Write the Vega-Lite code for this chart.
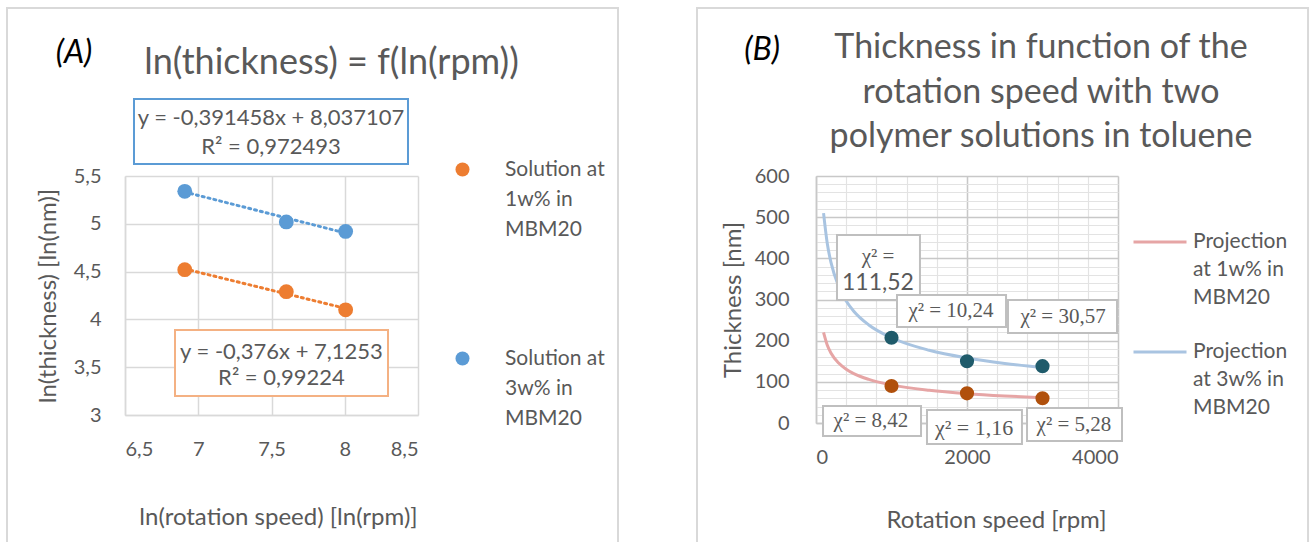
{
  "$schema": "https://vega.github.io/schema/vega-lite/v6.json",
  "background": "white",
  "padding": {"left": 5, "top": 7, "right": 5, "bottom": 5},
  "spacing": 398,
  "bounds": "flush",
  "config": {
    "font": "Lato",
    "view": {"stroke": null},
    "style": {"guide-label": {"lineHeight": 30}},
    "axis": {
      "labelFont": "Lato", "labelFontSize": 20, "labelColor": "#595959",
      "titleFont": "Lato", "titleFontSize": 24, "titleFontWeight": "normal", "titleColor": "#595959",
      "gridColor": "#d9d9d9", "gridWidth": 1.5, "domainColor": "#d9d9d9", "domainWidth": 1.5, "ticks": false
    }
  },
  "resolve": {
    "scale": {"color": "independent", "stroke": "independent", "fill": "independent"},
    "legend": {"color": "independent", "stroke": "independent", "fill": "independent"}
  },
  "hconcat": [
    {
      "width": 293, "height": 239,
      "title": {"text": "ln(thickness) = f(ln(rpm))", "anchor": "middle", "frame": "group", "dx": 60, "offset": -103, "baseline": "alphabetic", "fontSize": 36, "font": "Lato", "fontWeight": "normal", "color": "#595959"},
      "resolve": {"axis": {"x": "independent", "y": "independent"}},
      "layer": [
        {
          "data": {"values": [{}]},
          "mark": {"type": "rect", "filled": false, "stroke": "#d9d9d9", "strokeWidth": 2},
          "encoding": {
            "x": {"datum": 5.6945, "type": "quantitative", "scale": {"domain": [6.5, 8.5], "nice": false, "zero": false}, "axis": null},
            "x2": {"datum": 9.8652},
            "y": {"datum": 7.2573, "type": "quantitative", "scale": {"domain": [3, 5.5], "nice": false, "zero": false}, "axis": null},
            "y2": {"datum": 1.431}
          }
        },
        {
          "data": {"values": [{}]},
          "mark": {"type": "rect", "fill": "white", "stroke": "#5B9BD5", "strokeWidth": 2},
          "encoding": {
            "x": {"datum": 6.5614, "type": "quantitative", "scale": {"domain": [6.5, 8.5], "nice": false, "zero": false}, "axis": null},
            "x2": {"datum": 8.4317},
            "y": {"datum": 6.3054, "type": "quantitative", "scale": {"domain": [3, 5.5], "nice": false, "zero": false}, "axis": null},
            "y2": {"datum": 5.6255}
          }
        },
        {
          "data": {"values": [{}]},
          "mark": {"type": "rect", "fill": "white", "stroke": "#F4B183", "strokeWidth": 2},
          "encoding": {
            "x": {"datum": 6.8413, "type": "quantitative", "scale": {"domain": [6.5, 8.5], "nice": false, "zero": false}, "axis": null},
            "x2": {"datum": 8.2952},
            "y": {"datum": 3.8891, "type": "quantitative", "scale": {"domain": [3, 5.5], "nice": false, "zero": false}, "axis": null},
            "y2": {"datum": 3.1987}
          }
        },
        {
          "data": {"values": [{}]},
          "mark": {"type": "text", "lineBreak": "\n", "lineHeight": 29, "fontSize": 22, "font": "Lato", "color": "#595959", "align": "center", "baseline": "middle"},
          "encoding": {
            "x": {"datum": 7.4966, "type": "quantitative", "scale": {"domain": [6.5, 8.5], "nice": false, "zero": false}, "axis": null},
            "y": {"datum": 6.1067, "type": "quantitative", "scale": {"domain": [3, 5.5], "nice": false, "zero": false}, "axis": null},
            "text": {"value": "y = -0,391458x + 8,037107\nR² = 0,972493"}
          }
        },
        {
          "data": {"values": [{}]},
          "mark": {"type": "text", "lineBreak": "\n", "lineHeight": 26, "fontSize": 22, "font": "Lato", "color": "#595959", "align": "center", "baseline": "middle"},
          "encoding": {
            "x": {"datum": 7.568, "type": "quantitative", "scale": {"domain": [6.5, 8.5], "nice": false, "zero": false}, "axis": null},
            "y": {"datum": 3.659, "type": "quantitative", "scale": {"domain": [3, 5.5], "nice": false, "zero": false}, "axis": null},
            "text": {"value": "y = -0,376x + 7,1253\nR² = 0,99224"}
          }
        },
        {
          "data": {"values": [{}]},
          "mark": {"type": "text", "fontSize": 32, "font": "Lato", "fontStyle": "italic", "color": "#000000", "align": "center", "baseline": "middle"},
          "encoding": {
            "x": {"datum": 6.152, "type": "quantitative", "scale": {"domain": [6.5, 8.5], "nice": false, "zero": false}, "axis": null},
            "y": {"datum": 6.787, "type": "quantitative", "scale": {"domain": [3, 5.5], "nice": false, "zero": false}, "axis": null},
            "text": {"value": "(A)"}
          }
        },
        {
          "data": {"values": [
            {"fit": "Fit 1w%", "ln_rpm": 6.908, "ln_thickness": 4.528},
            {"fit": "Fit 1w%", "ln_rpm": 8.006, "ln_thickness": 4.115},
            {"fit": "Fit 3w%", "ln_rpm": 6.908, "ln_thickness": 5.333},
            {"fit": "Fit 3w%", "ln_rpm": 8.006, "ln_thickness": 4.903}
          ]},
          "mark": {"type": "line", "strokeWidth": 3, "strokeDash": [2, 4], "strokeCap": "round"},
          "encoding": {
            "x": {"field": "ln_rpm", "type": "quantitative", "scale": {"domain": [6.5, 8.5], "nice": false, "zero": false}, "axis": null},
            "y": {"field": "ln_thickness", "type": "quantitative", "scale": {"domain": [3, 5.5], "nice": false, "zero": false}, "axis": null},
            "stroke": {"field": "fit", "type": "nominal", "scale": {"domain": ["Fit 1w%", "Fit 3w%"], "range": ["#ED7D31", "#5B9BD5"]}, "legend": null}
          }
        },
        {
          "data": {"values": [
            {"solution": "Solution at 1w% in MBM20", "ln_rpm": 6.908, "ln_thickness": 4.52},
            {"solution": "Solution at 1w% in MBM20", "ln_rpm": 7.601, "ln_thickness": 4.29},
            {"solution": "Solution at 1w% in MBM20", "ln_rpm": 8.006, "ln_thickness": 4.10},
            {"solution": "Solution at 3w% in MBM20", "ln_rpm": 6.908, "ln_thickness": 5.34},
            {"solution": "Solution at 3w% in MBM20", "ln_rpm": 7.601, "ln_thickness": 5.02},
            {"solution": "Solution at 3w% in MBM20", "ln_rpm": 8.006, "ln_thickness": 4.92}
          ]},
          "mark": {"type": "point", "filled": true, "opacity": 1, "size": 220, "shape": "circle"},
          "encoding": {
            "x": {"field": "ln_rpm", "type": "quantitative", "scale": {"domain": [6.5, 8.5], "nice": false, "zero": false},
                  "axis": {"orient": "bottom", "values": [6.5, 7, 7.5, 8, 8.5], "labelExpr": "replace(format(datum.value, '~g'), '.', ',')", "title": "ln(rotation speed) [ln(rpm)]", "grid": true, "labelPadding": 24, "titleX": 153, "titleY": 102, "titleBaseline": "middle"}},
            "y": {"field": "ln_thickness", "type": "quantitative", "scale": {"domain": [3, 5.5], "nice": false, "zero": false},
                  "axis": {"orient": "left", "values": [3, 3.5, 4, 4.5, 5, 5.5], "labelExpr": "replace(format(datum.value, '~g'), '.', ',')", "title": "ln(thickness) [ln(nm)]", "grid": true, "labelPadding": 24, "titleX": -77, "titleY": 119.5, "titleBaseline": "middle", "titleAngle": -90}},
            "color": {"field": "solution", "type": "nominal", "scale": {"domain": ["Solution at 1w% in MBM20", "Solution at 3w% in MBM20"], "range": ["#ED7D31", "#5B9BD5"]},
                      "legend": {"orient": "none", "legendX": 327, "legendY": -17, "title": null, "direction": "vertical",
                                 "labelExpr": "[slice(datum.label,0,11), slice(datum.label,12,18), slice(datum.label,19)]",
                                 "labelFontSize": 21, "labelColor": "#595959", "labelFont": "Lato", "labelLimit": 300,
                                 "symbolSize": 196, "symbolType": "circle", "labelOffset": 32, "rowPadding": 107,
                                 "encode": {"labels": {"update": {"lineHeight": {"value": 30}}}}}}
          }
        }
      ]
    },
    {
      "width": 302, "height": 247,
      "title": {"text": ["Thickness in function of the", "rotation speed with two", "polymer solutions in toluene"], "anchor": "middle", "frame": "group", "dx": 74, "offset": -174, "baseline": "alphabetic", "lineHeight": 44.5, "fontSize": 34, "font": "Lato", "fontWeight": "normal", "color": "#595959"},
      "resolve": {"axis": {"x": "independent", "y": "independent"}},
      "layer": [
        {
          "data": {"values": [{}]},
          "mark": {"type": "rect", "filled": false, "stroke": "#d9d9d9", "strokeWidth": 2},
          "encoding": {
            "x": {"datum": -1576, "type": "quantitative", "scale": {"domain": [0, 4000], "nice": false, "zero": false}, "axis": null},
            "x2": {"datum": 6517},
            "y": {"datum": 1008, "type": "quantitative", "scale": {"domain": [0, 600], "nice": false, "zero": false}, "axis": null},
            "y2": {"datum": -345}
          }
        },
        {
          "data": {"values": [
            {"series": "Projection at 1w% in MBM20", "rpm": 100, "thickness": 220.3},
            {"series": "Projection at 1w% in MBM20", "rpm": 150, "thickness": 188.9},
            {"series": "Projection at 1w% in MBM20", "rpm": 200, "thickness": 169.6},
            {"series": "Projection at 1w% in MBM20", "rpm": 300, "thickness": 145.6},
            {"series": "Projection at 1w% in MBM20", "rpm": 400, "thickness": 130.6},
            {"series": "Projection at 1w% in MBM20", "rpm": 500, "thickness": 120.1},
            {"series": "Projection at 1w% in MBM20", "rpm": 700, "thickness": 105.9},
            {"series": "Projection at 1w% in MBM20", "rpm": 1000, "thickness": 92.6},
            {"series": "Projection at 1w% in MBM20", "rpm": 1500, "thickness": 79.5},
            {"series": "Projection at 1w% in MBM20", "rpm": 2000, "thickness": 71.3},
            {"series": "Projection at 1w% in MBM20", "rpm": 2500, "thickness": 65.6},
            {"series": "Projection at 1w% in MBM20", "rpm": 3000, "thickness": 61.3},
            {"series": "Projection at 3w% in MBM20", "rpm": 100, "thickness": 510.0},
            {"series": "Projection at 3w% in MBM20", "rpm": 150, "thickness": 435.2},
            {"series": "Projection at 3w% in MBM20", "rpm": 200, "thickness": 388.8},
            {"series": "Projection at 3w% in MBM20", "rpm": 300, "thickness": 331.7},
            {"series": "Projection at 3w% in MBM20", "rpm": 400, "thickness": 296.4},
            {"series": "Projection at 3w% in MBM20", "rpm": 500, "thickness": 271.6},
            {"series": "Projection at 3w% in MBM20", "rpm": 700, "thickness": 238.1},
            {"series": "Projection at 3w% in MBM20", "rpm": 1000, "thickness": 207.1},
            {"series": "Projection at 3w% in MBM20", "rpm": 1500, "thickness": 176.6},
            {"series": "Projection at 3w% in MBM20", "rpm": 2000, "thickness": 157.9},
            {"series": "Projection at 3w% in MBM20", "rpm": 2500, "thickness": 144.7},
            {"series": "Projection at 3w% in MBM20", "rpm": 3000, "thickness": 134.7}
          ]},
          "mark": {"type": "line", "strokeWidth": 3, "interpolate": "monotone"},
          "encoding": {
            "x": {"field": "rpm", "type": "quantitative", "scale": {"domain": [0, 4000], "nice": false, "zero": false},
                  "axis": {"orient": "bottom", "values": [0, 400, 800, 1200, 1600, 2000, 2400, 2800, 3200, 3600, 4000], "labels": false, "domain": false, "title": null, "grid": true, "gridColor": "#e3e3e3", "gridWidth": 1.2}},
            "y": {"field": "thickness", "type": "quantitative", "scale": {"domain": [0, 600], "nice": false, "zero": false},
                  "axis": {"orient": "left", "values": [20, 40, 60, 80, 120, 140, 160, 180, 220, 240, 260, 280, 320, 340, 360, 380, 420, 440, 460, 480, 520, 540, 560, 580], "labels": false, "domain": false, "title": null, "grid": true, "gridColor": "#e3e3e3", "gridWidth": 1.2}},
            "stroke": {"field": "series", "type": "nominal", "scale": {"domain": ["Projection at 1w% in MBM20", "Projection at 3w% in MBM20"], "range": ["#E6A5A5", "#A9C4E1"]},
                       "legend": {"orient": "none", "legendX": 316, "legendY": 38, "title": null, "direction": "vertical",
                                  "labelExpr": "[slice(datum.label,0,10), slice(datum.label,11,20), slice(datum.label,21)]",
                                  "labelFontSize": 21, "labelColor": "#595959", "labelFont": "Lato", "labelLimit": 300,
                                  "symbolType": "stroke", "symbolSize": 2809, "symbolStrokeWidth": 3, "labelOffset": 5, "rowPadding": 16,
                                  "encode": {"labels": {"update": {"lineHeight": {"value": 28}}}}}}
          }
        },
        {
          "data": {"values": [
            {"series": "1w%", "rpm": 1000, "thickness": 90},
            {"series": "1w%", "rpm": 2000, "thickness": 72},
            {"series": "1w%", "rpm": 3000, "thickness": 60},
            {"series": "3w%", "rpm": 1000, "thickness": 207},
            {"series": "3w%", "rpm": 2000, "thickness": 150},
            {"series": "3w%", "rpm": 3000, "thickness": 138}
          ]},
          "mark": {"type": "point", "filled": true, "opacity": 1, "size": 200, "shape": "circle"},
          "encoding": {
            "x": {"field": "rpm", "type": "quantitative", "scale": {"domain": [0, 4000], "nice": false, "zero": false},
                  "axis": {"orient": "bottom", "values": [0, 2000, 4000], "format": "d", "title": "Rotation speed [rpm]", "grid": true, "gridColor": "#c8c8c8", "domainColor": "#c8c8c8", "labelPadding": 24, "titleX": 180, "titleY": 97, "titleBaseline": "middle"}},
            "y": {"field": "thickness", "type": "quantitative", "scale": {"domain": [0, 600], "nice": false, "zero": false},
                  "axis": {"orient": "left", "values": [0, 100, 200, 300, 400, 500, 600], "format": "d", "title": "Thickness [nm]", "grid": true, "gridColor": "#c8c8c8", "domainColor": "#c8c8c8", "labelPadding": 27, "titleX": -83, "titleY": 123.5, "titleBaseline": "middle", "titleAngle": -90}},
            "fill": {"field": "series", "type": "nominal", "scale": {"domain": ["1w%", "3w%"], "range": ["#B0500C", "#1F5B6B"]}, "legend": null}
          }
        },
        {
          "data": {"values": [{}]},
          "mark": {"type": "rect", "fill": "white", "stroke": "#bfbfbf", "strokeWidth": 2},
          "encoding": {
            "x": {"datum": 278, "type": "quantitative", "scale": {"domain": [0, 4000], "nice": false, "zero": false}, "axis": null},
            "x2": {"datum": 1377},
            "y": {"datum": 456.7, "type": "quantitative", "scale": {"domain": [0, 600], "nice": false, "zero": false}, "axis": null},
            "y2": {"datum": 298.8}
          }
        },
        {
          "data": {"values": [{}]},
          "mark": {"type": "rect", "fill": "white", "stroke": "#bfbfbf", "strokeWidth": 2},
          "encoding": {
            "x": {"datum": 1073, "type": "quantitative", "scale": {"domain": [0, 4000], "nice": false, "zero": false}, "axis": null},
            "x2": {"datum": 2517},
            "y": {"datum": 310.9, "type": "quantitative", "scale": {"domain": [0, 600], "nice": false, "zero": false}, "axis": null},
            "y2": {"datum": 233.2}
          }
        },
        {
          "data": {"values": [{}]},
          "mark": {"type": "rect", "fill": "white", "stroke": "#bfbfbf", "strokeWidth": 2},
          "encoding": {
            "x": {"datum": 2543, "type": "quantitative", "scale": {"domain": [0, 4000], "nice": false, "zero": false}, "axis": null},
            "x2": {"datum": 3987},
            "y": {"datum": 298.8, "type": "quantitative", "scale": {"domain": [0, 600], "nice": false, "zero": false}, "axis": null},
            "y2": {"datum": 218.6}
          }
        },
        {
          "data": {"values": [{}]},
          "mark": {"type": "rect", "fill": "white", "stroke": "#bfbfbf", "strokeWidth": 2},
          "encoding": {
            "x": {"datum": 93, "type": "quantitative", "scale": {"domain": [0, 4000], "nice": false, "zero": false}, "axis": null},
            "x2": {"datum": 1391},
            "y": {"datum": 41.3, "type": "quantitative", "scale": {"domain": [0, 600], "nice": false, "zero": false}, "axis": null},
            "y2": {"datum": -31.6}
          }
        },
        {
          "data": {"values": [{}]},
          "mark": {"type": "rect", "fill": "white", "stroke": "#bfbfbf", "strokeWidth": 2},
          "encoding": {
            "x": {"datum": 1470, "type": "quantitative", "scale": {"domain": [0, 4000], "nice": false, "zero": false}, "axis": null},
            "x2": {"datum": 2728},
            "y": {"datum": 31.6, "type": "quantitative", "scale": {"domain": [0, 600], "nice": false, "zero": false}, "axis": null},
            "y2": {"datum": -51.0}
          }
        },
        {
          "data": {"values": [{}]},
          "mark": {"type": "rect", "fill": "white", "stroke": "#bfbfbf", "strokeWidth": 2},
          "encoding": {
            "x": {"datum": 2795, "type": "quantitative", "scale": {"domain": [0, 4000], "nice": false, "zero": false}, "axis": null},
            "x2": {"datum": 4053},
            "y": {"datum": 36.4, "type": "quantitative", "scale": {"domain": [0, 600], "nice": false, "zero": false}, "axis": null},
            "y2": {"datum": -43.7}
          }
        },
        {
          "data": {"values": [{}]},
          "mark": {"type": "text", "fontSize": 21, "font": "Liberation Serif", "color": "#595959", "align": "center", "baseline": "middle"},
          "encoding": {
            "x": {"datum": 821, "type": "quantitative", "scale": {"domain": [0, 4000], "nice": false, "zero": false}, "axis": null},
            "y": {"datum": 403.2, "type": "quantitative", "scale": {"domain": [0, 600], "nice": false, "zero": false}, "axis": null},
            "text": {"value": "χ² ="}
          }
        },
        {
          "data": {"values": [{}]},
          "mark": {"type": "text", "fontSize": 23, "font": "Lato", "color": "#595959", "align": "center", "baseline": "middle"},
          "encoding": {
            "x": {"datum": 821, "type": "quantitative", "scale": {"domain": [0, 4000], "nice": false, "zero": false}, "axis": null},
            "y": {"datum": 340.1, "type": "quantitative", "scale": {"domain": [0, 600], "nice": false, "zero": false}, "axis": null},
            "text": {"value": "111,52"}
          }
        },
        {
          "data": {"values": [{}]},
          "mark": {"type": "text", "fontSize": 21, "font": "Liberation Serif", "color": "#595959", "align": "center", "baseline": "middle"},
          "encoding": {
            "x": {"datum": 1788, "type": "quantitative", "scale": {"domain": [0, 4000], "nice": false, "zero": false}, "axis": null},
            "y": {"datum": 272.1, "type": "quantitative", "scale": {"domain": [0, 600], "nice": false, "zero": false}, "axis": null},
            "text": {"value": "χ² =  10,24"}
          }
        },
        {
          "data": {"values": [{}]},
          "mark": {"type": "text", "fontSize": 21, "font": "Liberation Serif", "color": "#595959", "align": "center", "baseline": "middle"},
          "encoding": {
            "x": {"datum": 3272, "type": "quantitative", "scale": {"domain": [0, 4000], "nice": false, "zero": false}, "axis": null},
            "y": {"datum": 257.5, "type": "quantitative", "scale": {"domain": [0, 600], "nice": false, "zero": false}, "axis": null},
            "text": {"value": "χ² =  30,57"}
          }
        },
        {
          "data": {"values": [{}]},
          "mark": {"type": "text", "fontSize": 21, "font": "Liberation Serif", "color": "#595959", "align": "center", "baseline": "middle"},
          "encoding": {
            "x": {"datum": 728, "type": "quantitative", "scale": {"domain": [0, 4000], "nice": false, "zero": false}, "axis": null},
            "y": {"datum": 4.9, "type": "quantitative", "scale": {"domain": [0, 600], "nice": false, "zero": false}, "axis": null},
            "text": {"value": "χ² =  8,42"}
          }
        },
        {
          "data": {"values": [{}]},
          "mark": {"type": "text", "fontSize": 22, "font": "Liberation Serif", "color": "#595959", "align": "center", "baseline": "middle"},
          "encoding": {
            "x": {"datum": 2093, "type": "quantitative", "scale": {"domain": [0, 4000], "nice": false, "zero": false}, "axis": null},
            "y": {"datum": -12.1, "type": "quantitative", "scale": {"domain": [0, 600], "nice": false, "zero": false}, "axis": null},
            "text": {"value": "χ² = 1,16"}
          }
        },
        {
          "data": {"values": [{}]},
          "mark": {"type": "text", "fontSize": 21, "font": "Liberation Serif", "color": "#595959", "align": "center", "baseline": "middle"},
          "encoding": {
            "x": {"datum": 3417, "type": "quantitative", "scale": {"domain": [0, 4000], "nice": false, "zero": false}, "axis": null},
            "y": {"datum": -4.9, "type": "quantitative", "scale": {"domain": [0, 600], "nice": false, "zero": false}, "axis": null},
            "text": {"value": "χ² =  5,28"}
          }
        },
        {
          "data": {"values": [{}]},
          "mark": {"type": "text", "fontSize": 32, "font": "Lato", "fontStyle": "italic", "color": "#000000", "align": "center", "baseline": "middle"},
          "encoding": {
            "x": {"datum": -715, "type": "quantitative", "scale": {"domain": [0, 4000], "nice": false, "zero": false}, "axis": null},
            "y": {"datum": 906, "type": "quantitative", "scale": {"domain": [0, 600], "nice": false, "zero": false}, "axis": null},
            "text": {"value": "(B)"}
          }
        }
      ]
    }
  ]
}
